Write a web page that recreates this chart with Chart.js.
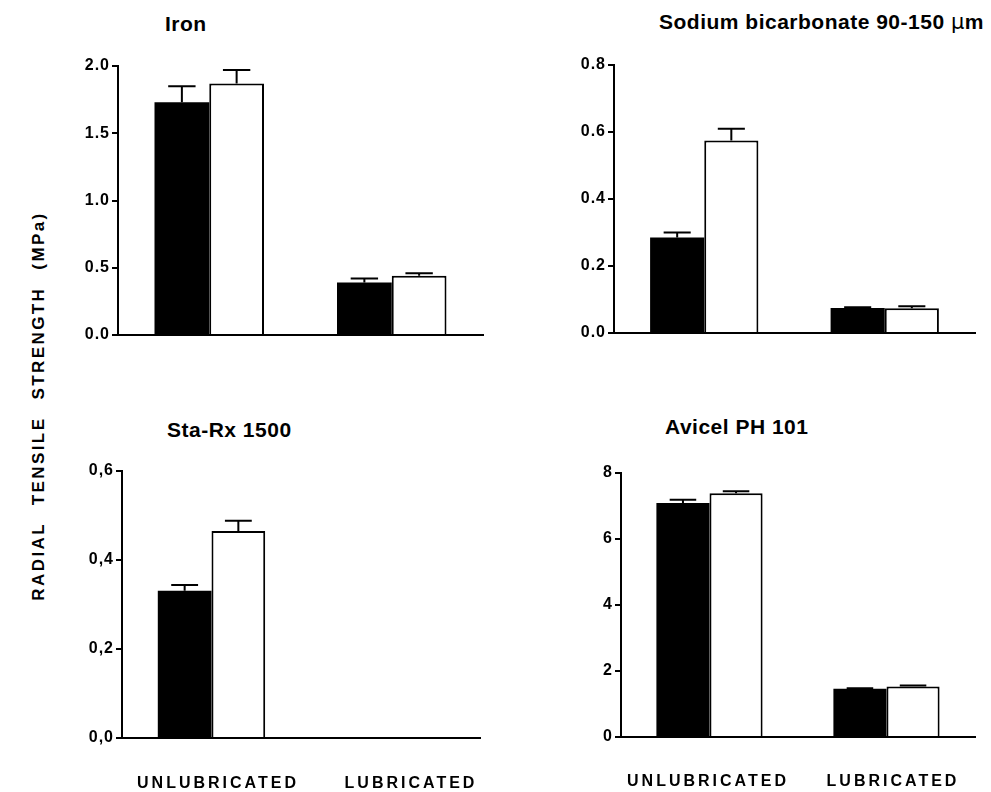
<!DOCTYPE html>
<html>
<head>
<meta charset="utf-8">
<script src="https://cdn.jsdelivr.net/npm/chart.js@4.4.1/dist/chart.umd.min.js"></script>
<style>
  html, body { margin:0; padding:0; background:#fff; }
  body { width:991px; height:792px; position:relative; overflow:hidden; font-family:"Liberation Sans", Arial, sans-serif; }
  canvas { position:absolute; }
  .title { position:absolute; font-weight:bold; font-size:21px; letter-spacing:0.5px; color:#000; white-space:nowrap; line-height:1; }
  .ylab { position:absolute; font-weight:bold; font-size:17px; letter-spacing:2.4px; word-spacing:10px; color:#000; white-space:nowrap; line-height:1;
          left:38px; top:406px; transform:translate(-50%,-50%) rotate(-90deg); }
</style>
</head>
<body>
<div class="title" style="left:165px; top:13px;">Iron</div>
<div class="title" style="left:659px; top:11px;">Sodium bicarbonate 90-150 <span style="font-weight:normal;font-family:'DejaVu Sans';">µ</span>m</div>
<div class="title" style="left:167px; top:419px;">Sta-Rx 1500</div>
<div class="title" style="left:665px; top:416px;">Avicel PH 101</div>
<div class="ylab">RADIAL TENSILE STRENGTH (MPa)</div>

<canvas id="c1" width="490" height="300" style="left:0px; top:50px;"></canvas>
<canvas id="c2" width="491" height="300" style="left:500px; top:50px;"></canvas>
<canvas id="c3" width="490" height="337" style="left:0px; top:455px;"></canvas>
<canvas id="c4" width="491" height="337" style="left:500px; top:455px;"></canvas>

<script>
// ---- data ----
const categories = ['UNLUBRICATED', 'LUBRICATED'];

const ironBlack = [1.73, 0.39];
const ironBlackErr = [0.12, 0.03];
const ironWhite = [1.87, 0.44];
const ironWhiteErr = [0.10, 0.02];
const ironTicks = ['0.0', '0.5', '1.0', '1.5', '2.0'];

const sodiumBlack = [0.285, 0.075];
const sodiumBlackErr = [0.015, 0.002];
const sodiumWhite = [0.575, 0.074];
const sodiumWhiteErr = [0.035, 0.006];
const sodiumTicks = ['0.0', '0.2', '0.4', '0.6', '0.8'];

const starxBlack = [0.331, null];
const starxBlackErr = [0.013, null];
const starxWhite = [0.465, null];
const starxWhiteErr = [0.023, null];
const starxTicks = ['0,0', '0,2', '0,4', '0,6'];

const avicelBlack = [7.09, 1.46];
const avicelBlackErr = [0.10, 0.02];
const avicelWhite = [7.39, 1.53];
const avicelWhiteErr = [0.06, 0.03];
const avicelTicks = ['0', '2', '4', '6', '8'];

// ---- plugins ----
const spacing = {
  id: 'spacing',
  beforeDraw(chart) { chart.ctx.letterSpacing = '1px'; }
};

const errorBars = {
  id: 'errorBars',
  afterDatasetsDraw(chart) {
    const ctx = chart.ctx;
    const ys = chart.scales.y;
    ctx.save();
    ctx.strokeStyle = '#000';
    ctx.lineWidth = 2;
    chart.data.datasets.forEach((ds, d) => {
      const meta = chart.getDatasetMeta(d);
      meta.data.forEach((el, i) => {
        const v = ds.data[i];
        const e = ds.errors ? ds.errors[i] : null;
        if (v == null || e == null) return;
        const yTop = ys.getPixelForValue(v + e);
        const half = el.width * 0.25;
        ctx.beginPath();
        ctx.moveTo(el.x, el.y);
        ctx.lineTo(el.x, yTop);
        ctx.moveTo(el.x - half, yTop);
        ctx.lineTo(el.x + half, yTop);
        ctx.stroke();
      });
    });
    ctx.restore();
  }
};

const catLabels = {
  id: 'catLabels',
  afterDraw(chart, args, opts) {
    if (!opts.show) return;
    const ctx = chart.ctx;
    const xs = chart.scales.x;
    ctx.save();
    ctx.font = 'bold 16px "Liberation Sans", Arial, sans-serif';
    ctx.letterSpacing = '3px';
    ctx.fillStyle = '#000';
    ctx.textAlign = 'center';
    ctx.textBaseline = 'middle';
    chart.data.labels.forEach((lab, i) => {
      const x = xs.getPixelForValue(i) + (opts.shift ? opts.shift[i] : 0) + 1.5;
      ctx.fillText(lab, x, chart.chartArea.bottom + opts.dy);
    });
    ctx.restore();
  }
};

function makeChart(id, black, blackErr, white, whiteErr, ticks, max, step, lay) {
  const tickFont = { family: '"Liberation Sans", Arial, sans-serif', size: 16, weight: 'bold' };
  return new Chart(document.getElementById(id), {
    type: 'bar',
    data: {
      labels: categories,
      datasets: [
        { data: black, errors: blackErr, backgroundColor: '#000', borderColor: '#000', borderWidth: 0,
          categoryPercentage: 0.6, barPercentage: 1.0 },
        { data: white, errors: whiteErr, backgroundColor: '#fff', borderColor: '#000', borderWidth: 2,
          categoryPercentage: 0.6, barPercentage: 1.0 }
      ]
    },
    options: {
      responsive: false,
      animation: false,
      layout: { padding: { top: lay.top, right: lay.right, left: 0, bottom: 0 } },
      plugins: {
        legend: { display: false },
        tooltip: { enabled: false },
        title: { display: false },
        catLabels: { show: lay.labels, dy: lay.dy, shift: lay.shift }
      },
      scales: {
        x: {
          type: 'category',
          offset: true,
          grid: { display: false },
          border: { display: true, color: '#000', width: 2 },
          ticks: { display: false },
          afterFit(s) { s.height = lay.xh; }
        },
        y: {
          min: 0, max: max,
          ticks: { stepSize: step, color: '#000', font: tickFont, padding: 2,
                   callback: (v, i) => ticks[i] },
          grid: { display: true, drawOnChartArea: false, drawTicks: true, tickLength: 6, color: '#000', lineWidth: 2 },
          border: { display: true, color: '#000', width: 2 },
          afterFit(s) { s.width = lay.yw; }
        }
      }
    },
    plugins: [spacing, errorBars, catLabels]
  });
}

makeChart('c1', ironBlack, ironBlackErr, ironWhite, ironWhiteErr, ironTicks, 2, 0.5,
  { top: 16, right: 7, yw: 118, xh: 15, labels: false });
makeChart('c2', sodiumBlack, sodiumBlackErr, sodiumWhite, sodiumWhiteErr, sodiumTicks, 0.8, 0.2,
  { top: 15, right: 16, yw: 114, xh: 17, labels: false });
makeChart('c3', starxBlack, starxBlackErr, starxWhite, starxWhiteErr, starxTicks, 0.6, 0.2,
  { top: 16, right: 10, yw: 122, xh: 54, labels: true, dy: 46, shift: [5, 19] });
makeChart('c4', avicelBlack, avicelBlackErr, avicelWhite, avicelWhiteErr, avicelTicks, 8, 2,
  { top: 18, right: 16, yw: 121, xh: 55, labels: true, dy: 45, shift: [-3, 5] });
</script>
</body>
</html>
